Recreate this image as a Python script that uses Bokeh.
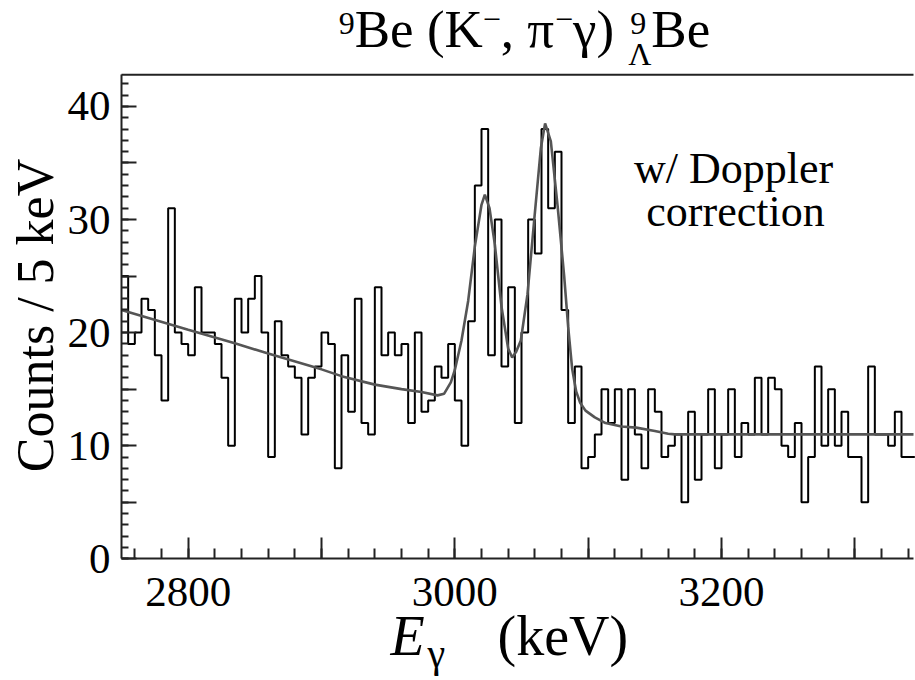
import math
from bokeh.plotting import figure
from bokeh.models import Label, SingleIntervalTicker, Range1d, LinearAxis
from bokeh.embed import file_html
from bokeh.resources import INLINE

# ---------------- data ----------------
bin_start = 2750          # keV, left edge of first bin
bin_width = 5             # keV per bin
counts = [25, 19, 20, 23, 22, 18, 14, 31, 20, 19,
          18, 24, 20, 20, 19, 16, 10, 23, 20, 23,
          25, 20, 9, 21, 18, 17, 16, 11, 16, 17,
          20, 19, 8, 18, 13, 23, 12, 11, 24, 18,
          20, 18, 19, 12, 20, 13, 14, 17, 16, 19,
          14, 10, 21, 33, 38, 18, 30, 17, 24, 12,
          20, 30, 27, 38, 31, 36, 22, 12, 17, 8,
          9, 11, 15, 12, 15, 7, 15, 11, 8, 15,
          13, 9, 10, 11, 5, 13, 7, 11, 15, 8,
          11, 15, 9, 12, 11, 16, 11, 16, 15, 10,
          9, 12, 5, 9, 17, 10, 15, 10, 13, 9,
          9, 5, 17, 11, 11, 10, 13, 9, 9]

fit_energy = [2750, 2800, 2835, 2860, 2900, 2915, 2940, 2960, 2975, 2987,
              2992, 2997, 3000, 3005, 3010, 3015, 3020, 3022.5, 3026, 3030,
              3035, 3040, 3043, 3046, 3049.5, 3054.5, 3059.5, 3064.5, 3067.7, 3072,
              3077, 3082, 3085, 3088, 3091, 3094, 3098, 3105, 3113, 3125,
              3136, 3150, 3160, 3165, 3344]
fit_counts = [22.0, 20.25, 19.05, 18.15, 16.75, 16.15, 15.4, 15.0, 14.75, 14.45,
              14.6, 15.6, 16.7, 19.3, 22.8, 27.6, 31.3, 32.2, 31.0, 27.8,
              22.3, 18.6, 17.8, 18.3, 19.3, 23.4, 29.9, 36.3, 38.5, 36.9,
              31.3, 25.0, 20.5, 16.8, 14.8, 13.8, 13.1, 12.5, 12.0, 11.7,
              11.6, 11.3, 11.05, 11.0, 11.0]

x_labeled_ticks = [2800, 3000, 3200]
y_labeled_ticks = [0, 10, 20, 30, 40]

# ---------------- layout ----------------
W, H = 915, 680
X_MIN, X_MAX = 2750, 3344      # visible energy window
Y_MIN, Y_MAX = 0, 42.8         # visible count window
PLOT_L, PLOT_B = 121, 558.3    # pixel position of the plot box's left / bottom edges
PX_PER_KEV = 4.0 / 3.0
PX_PER_COUNT = 11.31
FONT = "Liberation Serif"

# the frame fills the whole canvas so that all texts can be drawn without clipping;
# axes are placed at the plot-box edges with fixed_location
x_range = Range1d(X_MIN - PLOT_L / PX_PER_KEV, X_MIN + (W - PLOT_L) / PX_PER_KEV)
y_range = Range1d(Y_MIN - (H - PLOT_B) / PX_PER_COUNT, Y_MIN + PLOT_B / PX_PER_COUNT)

p = figure(width=W, height=H, output_backend="svg", toolbar_location=None,
           x_range=x_range, y_range=y_range, x_axis_type=None, y_axis_type=None,
           min_border=0, min_border_left=0, min_border_right=0,
           min_border_top=0, min_border_bottom=0)
p.grid.visible = False
p.outline_line_color = None
p.background_fill_color = "white"
p.border_fill_color = "white"

# histogram outline
edges = [bin_start + bin_width * i for i in range(len(counts) + 1)]
p.step(x=edges, y=counts + [counts[-1]], mode="after",
       line_color="black", line_width=2)

# fit curve
p.line(fit_energy, fit_counts, line_color="#555555", line_width=2.6)

# top edge of the plot box
p.segment(x0=[X_MIN], y0=[Y_MAX], x1=[X_MAX], y1=[Y_MAX], line_color="#222222", line_width=2)

# axes
xa = LinearAxis(fixed_location=Y_MIN, bounds=(X_MIN, X_MAX))
xa.ticker = SingleIntervalTicker(interval=100, num_minor_ticks=5)
xa.major_label_overrides = {v: "" for v in range(2700, 3400, 100) if v not in x_labeled_ticks}
xa.major_tick_in = 21
xa.major_tick_out = 0
xa.minor_tick_in = 10
xa.minor_tick_out = 0
xa.major_label_standoff = 19
p.add_layout(xa, "below")

ya = LinearAxis(fixed_location=X_MIN, bounds=(Y_MIN, Y_MAX))
ya.ticker = SingleIntervalTicker(interval=5, num_minor_ticks=5)
ya.major_label_overrides = {v: "" for v in range(0, 45, 5) if v not in y_labeled_ticks}
ya.major_tick_in = 15
ya.major_tick_out = 0
ya.minor_tick_in = 7
ya.minor_tick_out = 0
ya.major_label_standoff = 11
p.add_layout(ya, "left")

for ax in (xa, ya):
    ax.axis_line_width = 2
    ax.axis_line_color = "#222222"
    ax.major_tick_line_width = 2
    ax.minor_tick_line_width = 2
    ax.major_tick_line_color = "#222222"
    ax.minor_tick_line_color = "#222222"
    ax.major_label_text_font = FONT
    ax.major_label_text_font_size = "43px"
    ax.major_label_text_color = "black"

# ---------------- texts (screen units measured from canvas bottom-left) ----------------
BASELINE_SHIFT = 0.4   # empirical correction of the rendered alphabetic baseline (fraction of size)


def add_text(text, px, py, size, align="left", baseline="alphabetic", style="normal", angle=0.0):
    if baseline == "alphabetic":
        py = py - BASELINE_SHIFT * size
    p.add_layout(Label(x=px, y=H - py, x_units="screen", y_units="screen",
                       text=text, text_font=FONT,
                       text_font_size=f"{size}px", text_align=align,
                       text_baseline=baseline, text_font_style=style,
                       text_color="black", angle=angle))

# title with super/subscripts
T = 53
S = 32
adv = {'9': 0.5, 'B': 0.667, 'e': 0.444, ' ': 0.25, '(': 0.333, 'K': 0.722,
       '\u2212': 0.564, ',': 0.25, '\u03c0': 0.52, '\u03b3': 0.46, ')': 0.333,
       '\u039b': 0.722}


def width(txt, size):
    return sum(adv.get(c, 0.5) for c in txt) * size


pieces = [("9", S, 14), ("Be (K", T, 0), ("\u2212", S, 18), (", \u03c0", T, 0),
          ("\u2212", S, 18), ("\u03b3) ", T, 0), ("STACK", S, 0), ("Be", T, 0)]
total = 0
for txt, size, _ in pieces:
    total += max(width("9", S), width("\u039b", S)) if txt == "STACK" else width(txt, size)
cur = 524 - total / 2
base = 50
for txt, size, raise_ in pieces:
    if txt == "STACK":
        add_text("9", cur + 2, base - 14, S)
        add_text("\u039b", cur, base + 16, S)
        cur += max(width("9", S), width("\u039b", S))
    else:
        add_text(txt, cur, base - raise_, size)
        cur += width(txt, size)

# x axis label
add_text("E", 390, 658, 56, style="italic")
add_text("\u03b3", 427, 669, 40)
add_text("(keV)", 497, 658, 56)

# y axis label
add_text("Counts / 5 keV", 35, 315, 52, align="center", baseline="middle", angle=math.pi / 2)

# annotation
add_text("w/ Doppler", 733, 186, 44, align="center")
add_text("correction", 735, 229, 44, align="center")

open("out.html", "w").write(file_html(p, INLINE))
